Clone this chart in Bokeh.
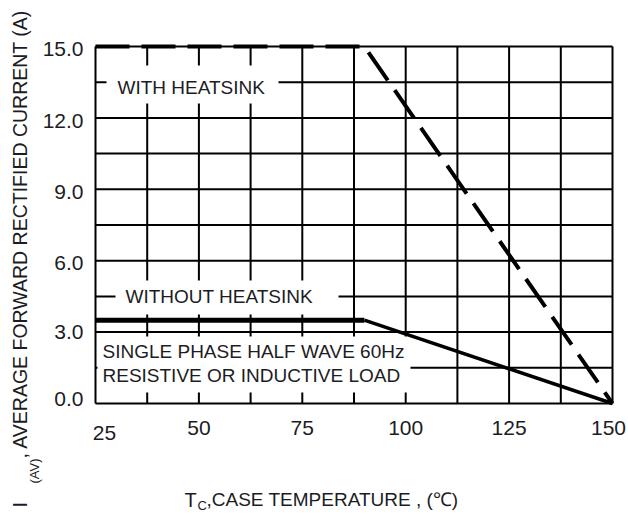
import math
from bokeh.plotting import figure
from bokeh.models import Range1d, Label, BoxAnnotation
from bokeh.embed import file_html
from bokeh.resources import INLINE

# ---------------- data ----------------
temp_with = [25, 90, 150]
current_with = [15.0, 15.0, 0.0]
temp_without = [25, 90, 150]
current_without = [3.5, 3.5, 0.0]

x_ticks = [25, 50, 75, 100, 125, 150]
x_tick_labels = ["25", "50", "75", "100", "125", "150"]
y_ticks = [0, 3, 6, 9, 12, 15]
y_tick_labels = ["0.0", "3.0", "6.0", "9.0", "12.0", "15.0"]
x_grid = [25, 37.5, 50, 62.5, 75, 87.5, 100, 112.5, 125, 137.5, 150]
y_grid = [0, 1.5, 3, 4.5, 6, 7.5, 9, 10.5, 12, 13.5, 15]

# ---------------- layout ----------------
W, H = 628, 515
FL, FR, FT, FB = 95, 612, 46, 403  # chart area edges in pixels
X0, X1, Y0, Y1 = 25, 150, 0, 15
SX = (FR - FL) / (X1 - X0)   # px per degC
SY = (FB - FT) / (Y1 - Y0)   # px per A


def px2x(px):
    return X0 + (px - FL) / SX


def py2y(py):
    return Y0 + (FB - py) / SY


# the frame spans the whole canvas so that titles outside the chart area are not clipped
p = figure(width=W, height=H, output_backend="svg", toolbar_location=None,
           x_axis_location=None, y_axis_location=None,
           x_range=Range1d(px2x(0), px2x(W)), y_range=Range1d(py2y(H), py2y(0)),
           min_border=0)
p.background_fill_color = "white"
p.border_fill_color = "white"
p.outline_line_color = None
p.grid.visible = False

TXT = "#1c1c24"
FONT = "Liberation Sans"

# grid (edges form the chart frame)
p.segment(x0=x_grid, y0=[Y0] * len(x_grid), x1=x_grid, y1=[Y1] * len(x_grid),
          line_color="black", line_width=2, level="underlay")
p.segment(x0=[X0] * len(y_grid), y0=y_grid, x1=[X1] * len(y_grid), y1=y_grid,
          line_color="black", line_width=2, level="underlay")

# white masks behind in-plot texts
for (l, r, t, b) in [(106, 278, 65, 103), (115, 338, 280, 314), (97, 410, 336, 392)]:
    p.add_layout(BoxAnnotation(left=px2x(l), right=px2x(r), top=py2y(t), bottom=py2y(b),
                               fill_color="white", fill_alpha=1.0, line_color=None,
                               level="underlay"))

# curves
p.line(temp_with, current_with, line_color="black", line_width=4,
       line_dash="34 12")
p.line(temp_without[:2], current_without[:2], line_color="black", line_width=5)
p.line(temp_without[1:], current_without[1:], line_color="black", line_width=3.5)

# tick labels
x_lab_dx = [9, 0, 0, 0, 0, -4]          # px shifts of the printed labels
x_lab_cy = [432, 427, 427, 427, 427, 427]
for t, lab, dx, cy in zip(x_ticks, x_tick_labels, x_lab_dx, x_lab_cy):
    p.add_layout(Label(x=t, y=py2y(cy), x_offset=dx, text=lab, text_font=FONT,
                       text_font_size="21px", text_color=TXT,
                       text_align="center", text_baseline="middle"))
y_lab_dy = [5, 0, -2, -3, -3, -2]       # px shifts (up positive)
for t, lab, dy in zip(y_ticks, y_tick_labels, y_lab_dy):
    p.add_layout(Label(x=px2x(83), y=t + dy / SY, text=lab, text_font=FONT,
                       text_font_size="21px", text_color=TXT,
                       text_align="right", text_baseline="middle"))

# in-plot texts
for (txt, lx, cy) in [("WITH HEATSINK", 117, 87),
                      ("WITHOUT HEATSINK", 125, 296),
                      ("SINGLE PHASE HALF WAVE  60Hz", 102, 351),
                      ("RESISTIVE OR INDUCTIVE LOAD", 102, 375)]:
    p.add_layout(Label(x=px2x(lx), y=py2y(cy), text=txt, text_font=FONT,
                       text_font_size="19px", text_color=TXT,
                       text_align="left", text_baseline="middle"))

# x axis title with subscript
for (txt, lx, cy, fs) in [("T", 184, 499, "20px"), ("C", 197, 505, "13px"),
                          (",CASE TEMPERATURE , (\u2103)", 206, 499, "19px")]:
    p.add_layout(Label(x=px2x(lx), y=py2y(cy), text=txt, text_font=FONT,
                       text_font_size=fs, text_color=TXT,
                       text_align="left", text_baseline="middle"))

# y axis title (rotated) with subscript
for (txt, cx, by, fs) in [("I", 19, 507, "20px"), ("(AV)", 34, 483, "13px"),
                          (", AVERAGE FORWARD RECTIFIED CURRENT (A)", 19, 458, "19.5px")]:
    p.add_layout(Label(x=px2x(cx), y=py2y(by), text=txt, text_font=FONT,
                       text_font_size=fs, text_color=TXT, angle=math.pi / 2,
                       text_align="left", text_baseline="middle"))

open("out.html", "w").write(file_html(p, INLINE))
